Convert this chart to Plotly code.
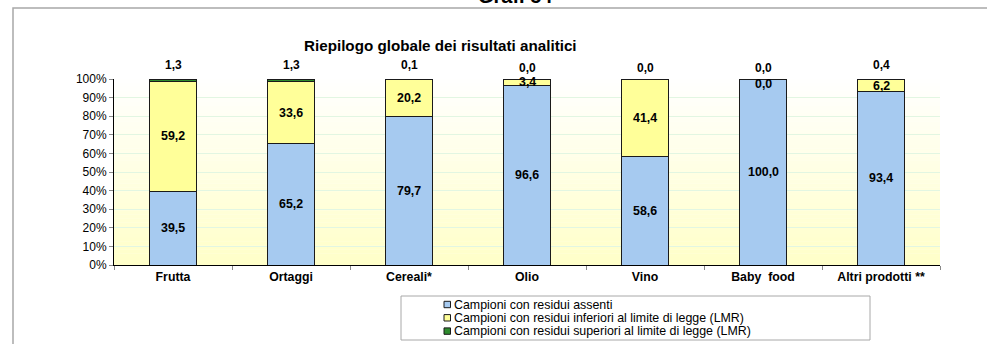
import plotly.graph_objects as go

# Categories and series (percent of samples)
categorie = ["Frutta", "Ortaggi", "Cereali*", "Olio", "Vino", "Baby  food", "Altri prodotti **"]
assenti = [39.5, 65.2, 79.7, 96.6, 58.6, 100.0, 93.4]
inferiori = [59.2, 33.6, 20.2, 3.4, 41.4, 0.0, 6.2]
superiori = [1.3, 1.3, 0.1, 0.0, 0.0, 0.0, 0.4]

nomi_serie = [
    "Campioni con residui assenti",
    "Campioni con residui inferiori al limite di legge (LMR)",
    "Campioni con residui superiori al limite di legge (LMR)",
]
tick_valori = [0, 10, 20, 30, 40, 50, 60, 70, 80, 90, 100]
tick_testi = [f"{v}%" for v in tick_valori]

W, H = 987, 344
L, R, T, B = 114, 47, 79, 79
PW, PH = W - L - R, H - T - B


def px(x):
    return (x - L) / PW


def py(y):
    return (H - B - y) / PH


def fmt(v):
    return f"{v:.1f}".replace(".", ",")


FONT = "Arial, Liberation Sans, sans-serif"
colori = ["#A6CAF0", "#FFFF99", "#2E8B2E"]
BORDO = "#1a1a1a"

fig = go.Figure()
for nome, valori, colore in zip(nomi_serie, [assenti, inferiori, superiori], colori):
    fig.add_trace(go.Bar(
        x=categorie, y=valori, name=nome, width=0.4,
        marker=dict(color=colore, line=dict(color=BORDO, width=1)),
        hoverinfo="skip", showlegend=False,
    ))

font_dentro = dict(family=FONT, size=12.4, color="black", weight="bold")
font_sopra = dict(family=FONT, size=12, color="black", weight="bold")
annotazioni = []
for i, cat in enumerate(categorie):
    tot = assenti[i] + inferiori[i] + superiori[i]
    a = assenti[i] / tot * 100
    b = inferiori[i] / tot * 100
    # label in the middle of each lower segment
    annotazioni.append(dict(x=cat, y=a / 2, text=fmt(assenti[i]), showarrow=False, font=font_dentro))
    yb = a + b / 2
    if inferiori[i] == 0:
        yb = 97.5
    annotazioni.append(dict(x=cat, y=yb, text=fmt(inferiori[i]), showarrow=False, font=font_dentro))
    # label above the bar for the top series
    annotazioni.append(dict(x=cat, y=100, text=fmt(superiori[i]), showarrow=False,
                            yshift=14 if superiori[i] > 0 else 11, font=font_sopra))

annotazioni.append(dict(xref="paper", yref="paper", x=px(440), y=py(35),
                        text="<b>Riepilogo globale dei risultati analitici</b>",
                        showarrow=False, font=dict(family=FONT, size=15.2, color="black")))
annotazioni.append(dict(xref="paper", yref="paper", x=px(515), y=py(9), yanchor="bottom",
                        text="<b>Graf. 54</b>",
                        showarrow=False, font=dict(family=FONT, size=20, color="black")))

# vertical gradient behind the plot area: white at the top, pale yellow at the bottom
forme = []
n = 48
c0 = (255, 255, 255)
c1 = (255, 255, 200)
for k in range(n):
    t = (k + 0.5) / n
    r = round(c0[0] + (c1[0] - c0[0]) * t)
    g = round(c0[1] + (c1[1] - c0[1]) * t)
    bb = round(c0[2] + (c1[2] - c0[2]) * t)
    forme.append(dict(type="rect", xref="paper", yref="paper", layer="below",
                      x0=0, x1=1, y0=1 - (k + 1) / n, y1=1 - k / n + 0.001,
                      fillcolor=f"rgb({r},{g},{bb})", line=dict(width=0)))

# outer frame of the chart
forme.append(dict(type="rect", xref="paper", yref="paper", layer="below",
                  x0=px(13), x1=px(W + 20), y0=py(H + 20), y1=py(8),
                  fillcolor="rgba(0,0,0,0)", line=dict(color="#A8A8A8", width=1.5)))
# legend box
forme.append(dict(type="rect", xref="paper", yref="paper", layer="below",
                  x0=px(401), x1=px(870), y0=py(340), y1=py(296),
                  fillcolor="white", line=dict(color="#A8A8A8", width=1)))

# legend entries: small swatch plus label, one row per series
for j, (nome, colore) in enumerate(zip(nomi_serie, colori)):
    yc = 304.5 + 13.3 * j
    forme.append(dict(type="rect", xref="paper", yref="paper",
                      x0=px(444), x1=px(450.5), y0=py(yc + 3.2), y1=py(yc - 3.2),
                      fillcolor=colore, line=dict(color=BORDO, width=1)))
    annotazioni.append(dict(xref="paper", yref="paper", x=px(452), y=py(yc),
                            xanchor="left", yanchor="middle", text=nome, showarrow=False,
                            font=dict(family=FONT, size=12.4, color="black")))

fig.update_layout(
    width=W, height=H,
    margin=dict(l=L, r=R, t=T, b=B, autoexpand=False),
    paper_bgcolor="white", plot_bgcolor="rgba(0,0,0,0)",
    barmode="stack", barnorm="percent", bargap=0.6,
    font=dict(family=FONT, size=12, color="black"),
    showlegend=False,
    annotations=annotazioni,
    shapes=forme,
)
fig.update_xaxes(
    showline=True, linecolor="black", linewidth=1,
    ticks="outside", tickson="boundaries", ticklen=4, tickcolor="#888",
    tickfont=dict(family=FONT, size=12.3, color="black", weight="bold"),
    showgrid=False,
)
fig.update_yaxes(
    range=[0, 100], tickvals=tick_valori, ticktext=tick_testi,
    showline=True, linecolor="black", linewidth=1,
    ticks="outside", ticklen=4, tickcolor="#888",
    tickfont=dict(family=FONT, size=12, color="black"),
    showgrid=True, gridcolor="#E2F6E2", gridwidth=1, zeroline=False,
)

fig.write_html("out.html")
